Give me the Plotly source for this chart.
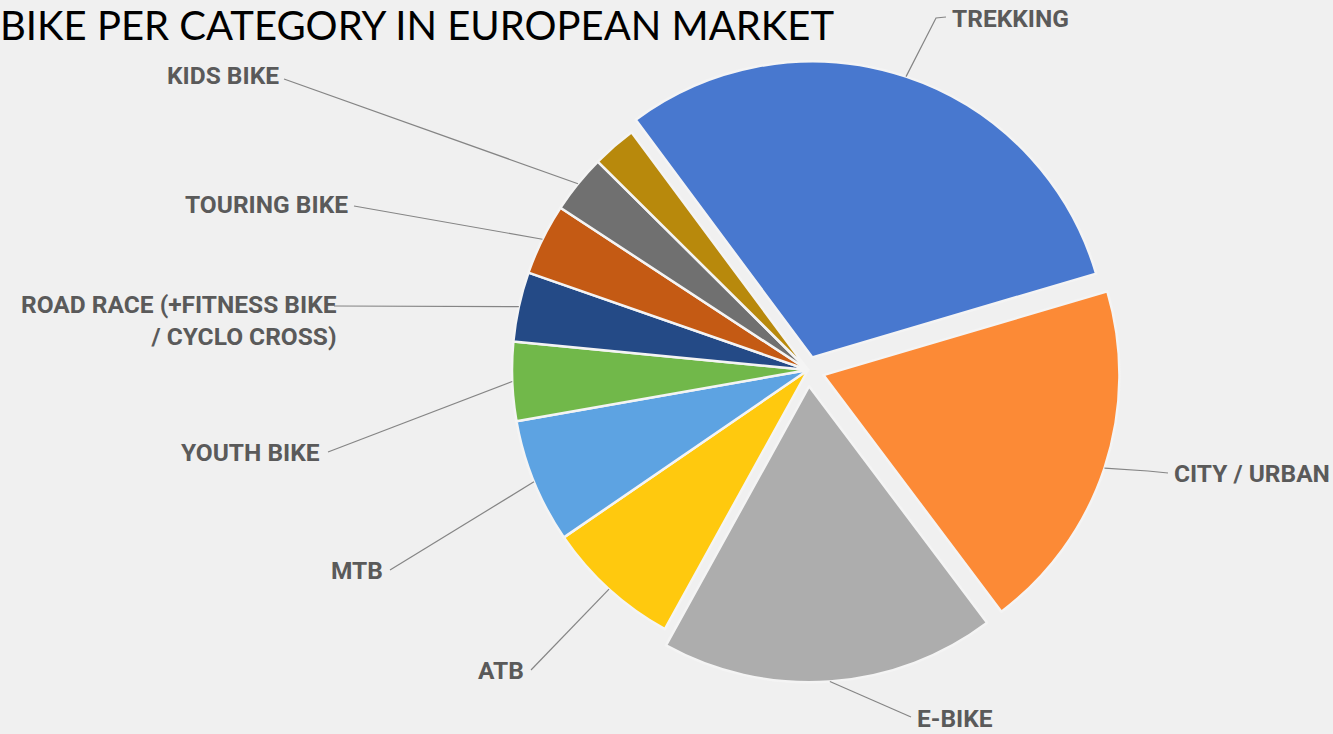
import math
import plotly.graph_objects as go

# ---------------- data ----------------
categories = ["TREKKING", "CITY / URBAN", "E-BIKE", "ATB", "MTB", "YOUTH BIKE",
              "ROAD RACE (+FITNESS BIKE<br>/ CYCLO CROSS)", "TOURING BIKE", "KIDS BIKE", "OTHER"]
shares = [30.6, 19.3, 18.3, 7.4, 6.8, 4.3, 3.8, 3.9, 3.2, 2.4]
colors = ["#4878CF", "#FC8A36", "#ADADAD", "#FFC90E", "#5DA3E2", "#71B84A",
          "#244A86", "#C45A14", "#707070", "#B8890C"]
pulls = [0.045, 0.055, 0.055, 0, 0, 0, 0, 0, 0, 0]
show_label = [True, True, True, True, True, True, True, True, True, False]

# ---------------- layout constants ----------------
W, H = 1333, 734
CX, CY, R = 808, 370, 296          # pie centre / radius in pixels
START = 323.4                      # first slice start, degrees clockwise from 12 o'clock
max_pull = max(pulls)
half_box = R * (1 + max_pull)

# label text placement: (x, y, xanchor, leader end x, leader end y, elbow)
label_pos = {
    "TREKKING": (950, 18, "left", 946, 17, (936, 18)),
    "CITY / URBAN": (1172, 473, "left", 1168, 473, (1148, 471)),
    "E-BIKE": (915, 718, "left", 911, 717, None),
    "ATB": (526, 670, "right", 531, 670, None),
    "MTB": (385, 570, "right", 390, 570, None),
    "YOUTH BIKE": (322, 452, "right", 328, 452, None),
    "ROAD RACE (+FITNESS BIKE<br>/ CYCLO CROSS)": (339, 320, "right", 334, 306, None),
    "TOURING BIKE": (350, 205, "right", 354, 206, None),
    "KIDS BIKE": (281, 75, "right", 284, 79, None),
}


def px(x):
    return x / W


def py(y):
    return 1 - y / H


fig = go.Figure(go.Pie(
    labels=categories,
    values=shares,
    sort=False,
    direction="clockwise",
    rotation=START - 360,
    pull=pulls,
    marker=dict(colors=colors, line=dict(color="#F4F4F4", width=2.5)),
    textinfo="none",
    hoverinfo="label+percent",
    showlegend=False,
    domain=dict(x=[px(CX - half_box), px(CX + half_box)],
                y=[py(CY + half_box), py(CY - half_box)]),
))

# leader lines + labels, anchored at slice mid-angles computed from the data
total = sum(shares)
cum = 0.0
shapes = []
annotations = []
for cat, v, p, show in zip(categories, shares, pulls, show_label):
    mid = START + (cum + v / 2) / total * 360
    cum += v
    if not show:
        continue
    a = math.radians(mid)
    rr = R * (1 + p)
    hx = CX + rr * math.sin(a)
    hy = CY - rr * math.cos(a)
    tx, ty, xa, ex, ey, elbow = label_pos[cat]
    pts = [(hx, hy)]
    if elbow:
        pts.append(elbow)
    pts.append((ex, ey))
    path = "M " + " L ".join(f"{px(x):.5f},{py(y):.5f}" for x, y in pts)
    shapes.append(dict(type="path", xref="paper", yref="paper", path=path,
                       line=dict(color="#858585", width=1.2)))
    annotations.append(dict(text=cat, x=px(tx), y=py(ty), xref="paper", yref="paper",
                            xanchor=xa, yanchor="middle", showarrow=False,
                            align="right" if xa == "right" else "left",
                            font=dict(family="Roboto", size=24.5, color="#5A5A5A",
                                      weight="bold")))

annotations.append(dict(text="BIKE PER CATEGORY IN EUROPEAN MARKET", x=px(-2), y=py(25),
                        xref="paper", yref="paper", xanchor="left", yanchor="middle",
                        showarrow=False,
                        font=dict(family="Lato", size=40, color="#000000")))

fig.update_layout(
    width=W, height=H,
    margin=dict(l=0, r=0, t=0, b=0),
    paper_bgcolor="#F0F0F0",
    plot_bgcolor="#F0F0F0",
    shapes=shapes,
    annotations=annotations,
)

fig.write_html("out.html",
               config={"displayModeBar": False},
               post_script="document.body.style.margin='0';document.body.style.background='#F0F0F0';")
